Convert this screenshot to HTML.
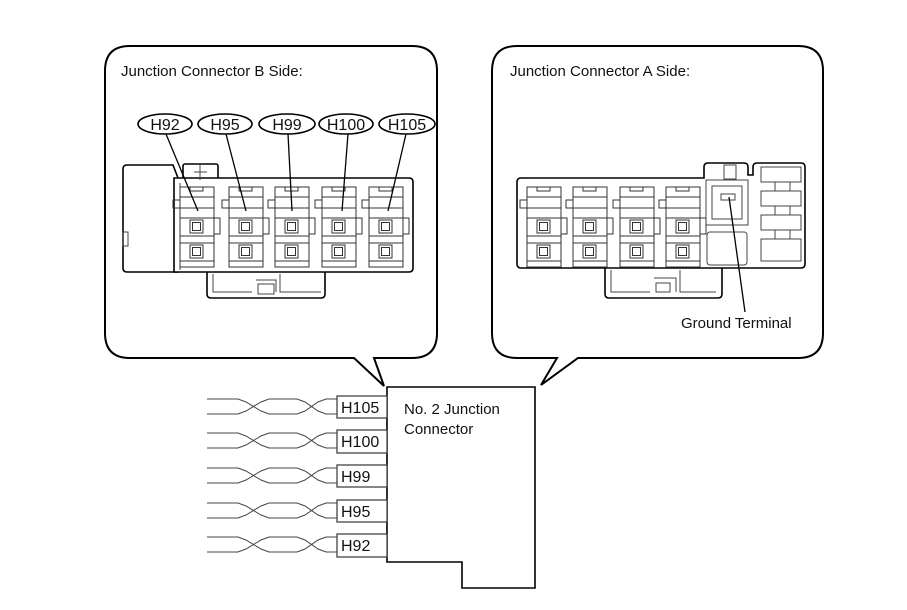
<!DOCTYPE html>
<html><head><meta charset="utf-8"><style>
html,body{margin:0;padding:0;background:#fff;}
svg{display:block;}
text{font-family:"Liberation Sans",Arial,sans-serif;fill:#111;}
</style></head><body>
<svg width="907" height="610" viewBox="0 0 907 610" xmlns="http://www.w3.org/2000/svg">
<defs>
<g id="cav" fill="none" stroke="#333" stroke-width="1">
  <rect x="0" y="0" width="34" height="80" fill="#fff"/>
  <rect x="10" y="0" width="13" height="4"/>
  <line x1="0" y1="10" x2="34" y2="10"/>
  <path d="M0 13 H-7 V21 H0"/>
  <line x1="0" y1="21" x2="34" y2="21"/>
  <line x1="0" y1="31" x2="34" y2="31"/>
  <rect x="10" y="33" width="13" height="13"/>
  <rect x="12.5" y="35.5" width="8" height="8"/>
  <path d="M34 31 H40 V47 H34"/>
  <line x1="0" y1="49" x2="34" y2="49"/>
  <line x1="0" y1="56" x2="34" y2="56"/>
  <rect x="10" y="58" width="13" height="13"/>
  <rect x="12.5" y="60.5" width="8" height="8"/>
  <line x1="0" y1="74" x2="34" y2="74"/>
</g>
<g id="wire" fill="none" stroke="#444" stroke-width="1">
  <path d="M207 0 H238 L246 3 L261 12 L269 15 H297 L305 12 L318 3 L326 0 H337"/>
  <path d="M207 15 H238 L246 12 L261 3 L269 0 H297 L305 3 L318 12 L326 15 H337"/>
</g>
</defs>

<path d="M130 46 H412 Q437 46 437 71 V333 Q437 358 412 358 H374 L384 386 L354 358 H130 Q105 358 105 333 V71 Q105 46 130 46 Z" fill="#fff" stroke="#000" stroke-width="2"/>
<text x="121" y="76" font-size="15">Junction Connector B Side:</text>

<path d="M517 46 H798 Q823 46 823 71 V333 Q823 358 798 358 H578 L541 385 L557 358 H517 Q492 358 492 333 V71 Q492 46 517 46 Z" fill="#fff" stroke="#000" stroke-width="2"/>
<text x="510" y="76" font-size="15">Junction Connector A Side:</text>

<g fill="#fff" stroke="#000" stroke-width="1.6">
  <path d="M127 165 H173 L178 178 V272 H127 Q123 272 123 268 V169 Q123 165 127 165 Z"/>
  <rect x="183" y="164" width="35" height="16" rx="2"/>
  <path d="M207 272 V294 Q207 298 211 298 H321 Q325 298 325 294 V272"/>
  <path d="M174 178 H409 Q413 178 413 182 V268 Q413 272 409 272 H174 Z"/>
</g>
<g fill="none" stroke="#444" stroke-width="1">
  <rect x="123" y="232" width="5" height="14"/>
  <line x1="200" y1="164" x2="200" y2="180"/>
  <line x1="194" y1="172" x2="207" y2="172"/>
  <path d="M213 274 V292 H252 M256 280 H276 V292 M280 274 V292 H321"/>
  <rect x="258" y="284" width="16" height="10"/>
  <line x1="180" y1="183" x2="180" y2="270"/>
</g>
<use href="#cav" x="180" y="187"/>
<use href="#cav" x="229" y="187"/>
<use href="#cav" x="275" y="187"/>
<use href="#cav" x="322" y="187"/>
<use href="#cav" x="369" y="187"/>

<g fill="#fff" stroke="#000" stroke-width="1.6">
  <ellipse cx="165" cy="124" rx="27" ry="10"/>
  <ellipse cx="225" cy="124" rx="27" ry="10"/>
  <ellipse cx="287" cy="124" rx="28" ry="10"/>
  <ellipse cx="346" cy="124" rx="27" ry="10"/>
  <ellipse cx="407" cy="124" rx="28" ry="10"/>
</g>
<g font-size="16" text-anchor="middle">
  <text x="165" y="130">H92</text>
  <text x="225" y="130">H95</text>
  <text x="287" y="130">H99</text>
  <text x="346" y="130">H100</text>
  <text x="407" y="130">H105</text>
</g>
<g stroke="#000" stroke-width="1.3">
  <line x1="166" y1="134" x2="198" y2="211"/>
  <line x1="226" y1="134" x2="246" y2="211"/>
  <line x1="288" y1="134" x2="292" y2="211"/>
  <line x1="348" y1="134" x2="342" y2="211"/>
  <line x1="406" y1="134" x2="388" y2="211"/>
</g>

<g fill="#fff" stroke="#000" stroke-width="1.6">
  <path d="M605 268 V294 Q605 298 609 298 H718 Q722 298 722 294 V268"/>
  <path d="M521 178 H704 V167 Q704 163 708 163 H744 Q748 163 748 167 V175 H753 V167 Q753 163 757 163 H801 Q805 163 805 167 V264 Q805 268 801 268 H521 Q517 268 517 264 V182 Q517 178 521 178 Z"/>
</g>
<g fill="none" stroke="#444" stroke-width="1">
  <path d="M611 270 V292 H650 M654 278 H676 V292 M680 270 V292 H716"/>
  <rect x="656" y="283" width="14" height="9"/>
  <rect x="706" y="180" width="42" height="45"/>
  <rect x="712" y="186" width="30" height="33"/>
  <rect x="724" y="165" width="12" height="14"/>
  <rect x="721" y="194" width="14" height="6"/>
  <rect x="707" y="232" width="40" height="33" rx="3"/>
  <rect x="761" y="167" width="40" height="15"/>
  <rect x="761" y="191" width="40" height="15"/>
  <rect x="761" y="215" width="40" height="15"/>
  <rect x="761" y="239" width="40" height="22"/>
  <rect x="775" y="182" width="15" height="9"/>
  <rect x="775" y="206" width="15" height="9"/>
  <rect x="775" y="230" width="15" height="9"/>
</g>
<use href="#cav" x="527" y="187"/>
<use href="#cav" x="573" y="187"/>
<use href="#cav" x="620" y="187"/>
<use href="#cav" x="666" y="187"/>
<line x1="729" y1="197" x2="745" y2="312" stroke="#000" stroke-width="1.3"/>
<text x="681" y="328" font-size="15">Ground Terminal</text>

<path d="M387 387 H535 V588 H462 V562 H387 Z" fill="#fff" stroke="#000" stroke-width="1.6"/>
<text x="404" y="414" font-size="15">No. 2 Junction</text>
<text x="404" y="434" font-size="15">Connector</text>

<g fill="#fff" stroke="#444" stroke-width="1.3">
  <rect x="337" y="396" width="50" height="22"/>
  <rect x="337" y="430" width="50" height="23"/>
  <rect x="337" y="465" width="50" height="22"/>
  <rect x="337" y="500" width="50" height="22"/>
  <rect x="337" y="534" width="50" height="23"/>
</g>
<g font-size="16">
  <text x="341" y="413">H105</text>
  <text x="341" y="447">H100</text>
  <text x="341" y="482">H99</text>
  <text x="341" y="517">H95</text>
  <text x="341" y="551">H92</text>
</g>
<use href="#wire" x="0" y="399"/>
<use href="#wire" x="0" y="433"/>
<use href="#wire" x="0" y="468"/>
<use href="#wire" x="0" y="503"/>
<use href="#wire" x="0" y="537"/>
</svg>
</body></html>
